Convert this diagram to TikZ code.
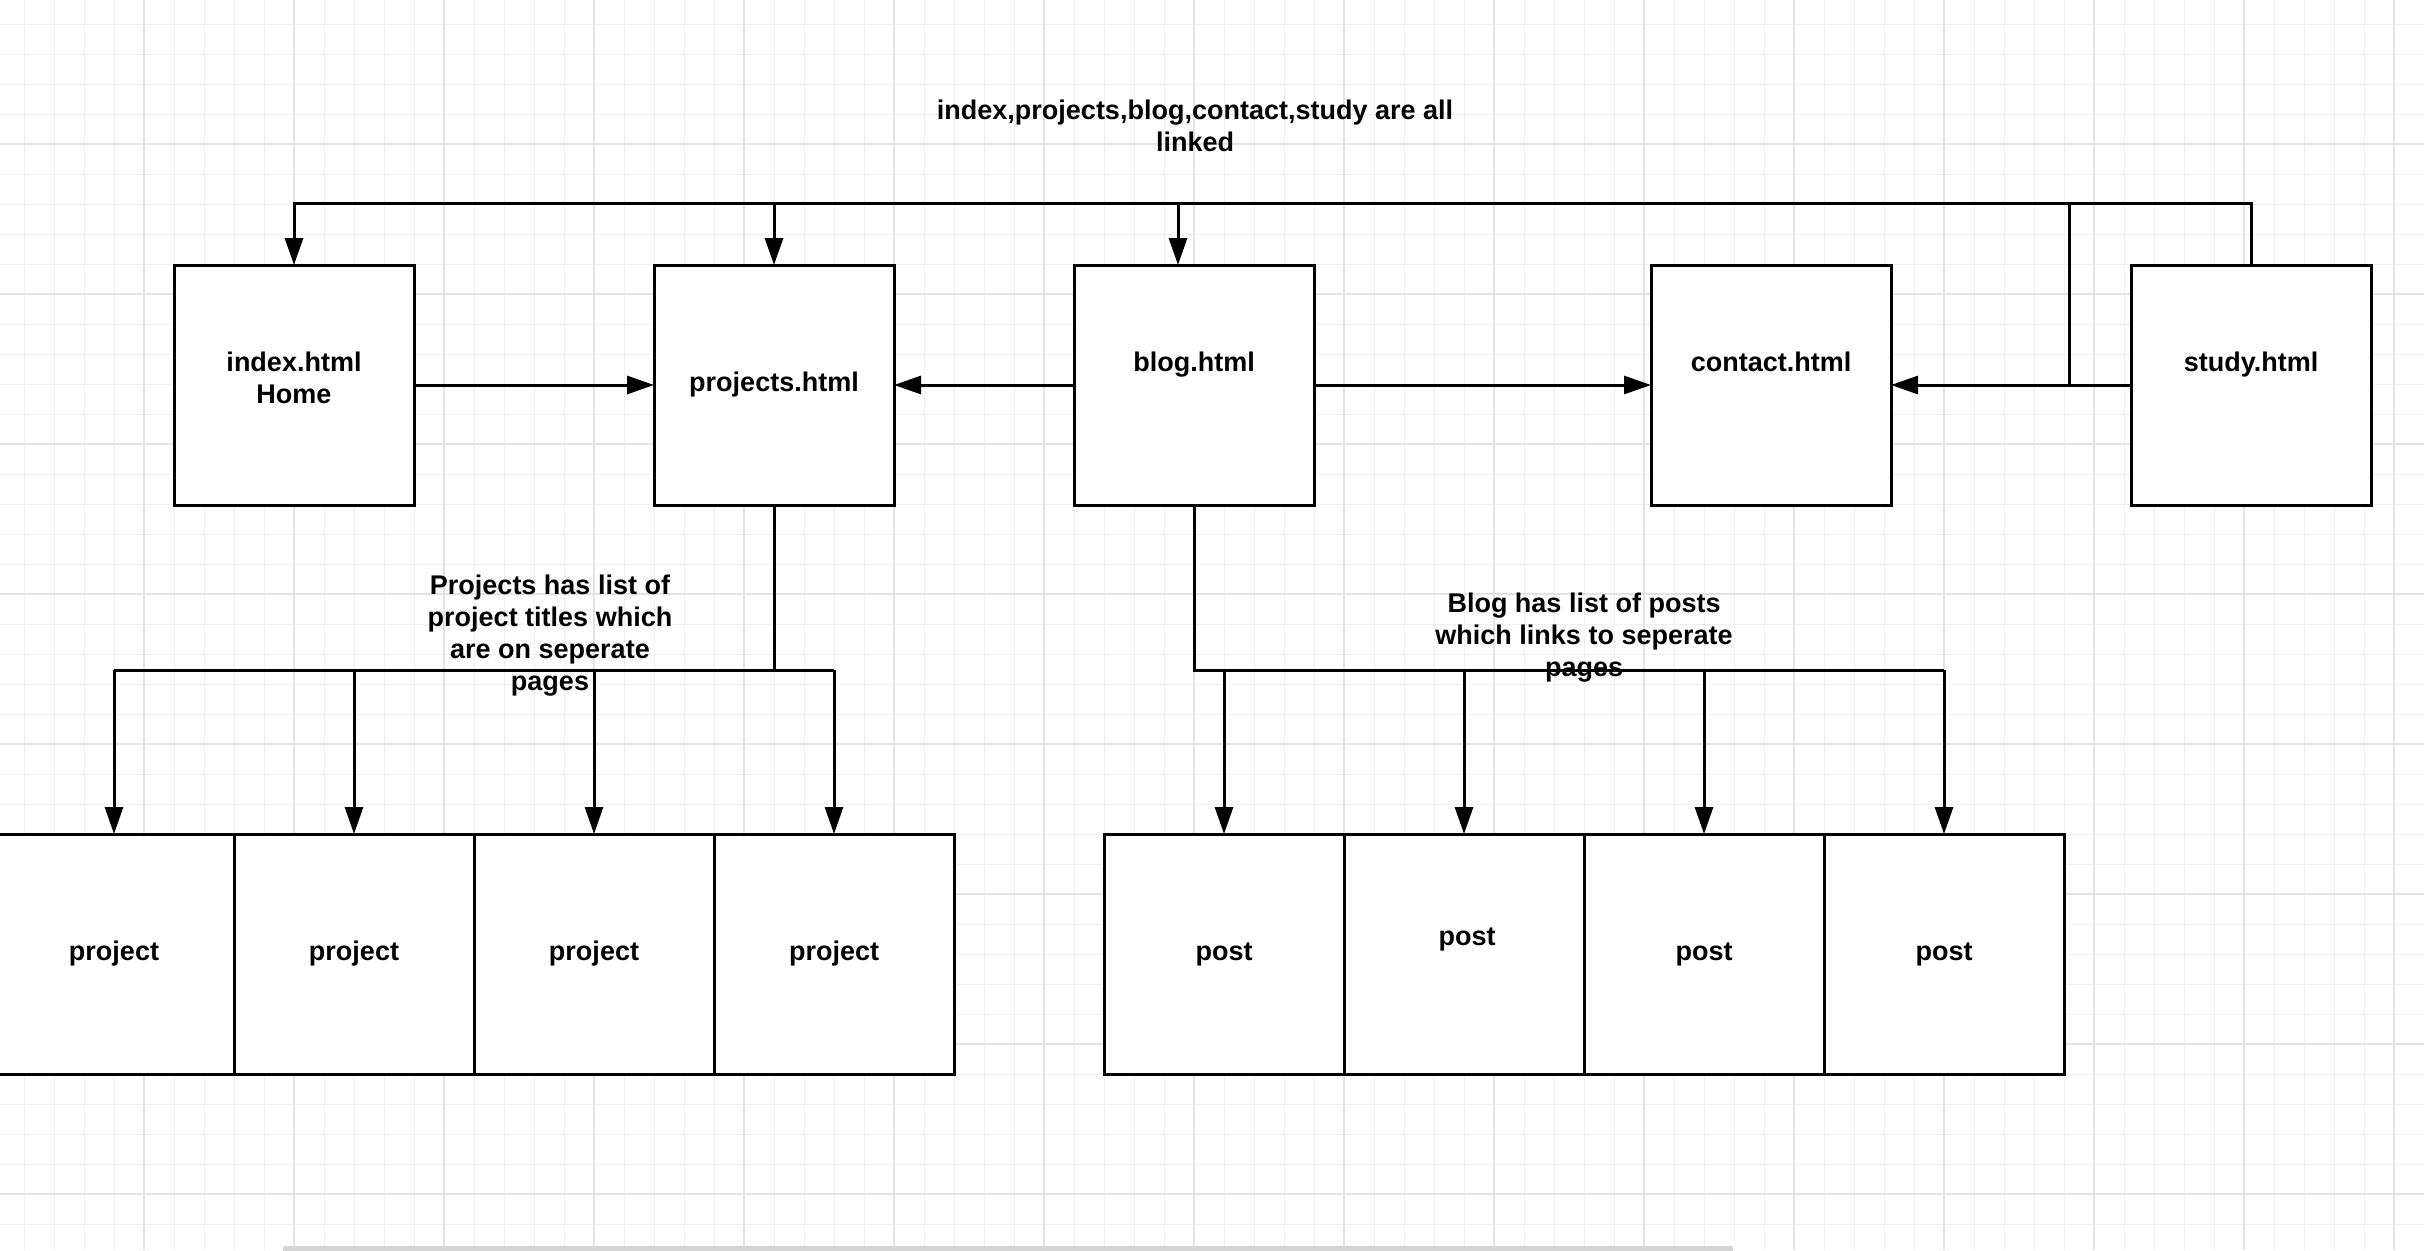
\documentclass[tikz,border=0pt]{standalone}
\usepackage{fontspec}
\setmainfont{Liberation Sans}
\usetikzlibrary{arrows.meta}

\begin{document}
\begin{tikzpicture}[x=1pt, y=-1pt, line width=3pt,
  page/.style={draw, fill=white, minimum width=240pt, minimum height=240pt,
    inner sep=0pt, outer sep=0pt},
  txt/.style={font=\fontsize{27}{32}\selectfont\bfseries, align=center},
  link/.style={-{Triangle[length=27pt,width=18pt]}},
  minorgrid/.style={line width=1pt, black!6},
  majorgrid/.style={line width=1.2pt, black!11}]
  \useasboundingbox (0,0) rectangle (2424,1250);
  \clip (0,0) rectangle (2424,1250);

  % background grid
  \foreach \k in {0,...,80} \draw[minorgrid] (24+30*\k,0) -- (24+30*\k,1250);
  \foreach \k in {0,...,41} \draw[minorgrid] (0,24+30*\k) -- (2424,24+30*\k);
  \foreach \k in {0,...,15} \draw[majorgrid] (144+150*\k,0) -- (144+150*\k,1250);
  \foreach \k in {0,...,7} \draw[majorgrid] (0,144+150*\k) -- (2424,144+150*\k);
  \fill[black!17, rounded corners=2pt] (283,1246) rectangle (1733,1252);

  % top pages
  \node[page, label={[txt, yshift=7pt]center:index.html\\Home}] (index) at (294,385) {};
  \node[page, label={[txt]center:projects.html}] (projects) at (774,385) {};
  \node[page, label={[txt, yshift=20pt]center:blog.html}] (blog) at (1194,385) {};
  \node[page, label={[txt, yshift=23pt]center:contact.html}] (contact) at (1771,385) {};
  \node[page, label={[txt, yshift=20pt]center:study.html}] (study) at (2251,385) {};

  \node[txt] (alllinked) at (1195,126) {index,projects,blog,contact,study are all\\linked};

  % links between the pages
  \coordinate (busL) at (294,203);
  \coordinate (blogin) at (1178,265);
  \coordinate (branch) at (2069,385);
  \draw[link] (study.north) |- (busL) -- (index.north);
  \draw[link] (projects.north |- busL) -- (projects.north);
  \draw[link] (blogin |- busL) -- (blogin);
  \draw (branch |- busL) -- (branch);
  \draw[link] (index.east) -- (projects.west);
  \draw[link] (blog.west) -- (projects.east);
  \draw[link] (blog.east) -- (contact.west);
  \draw[link] (study.west) -- (contact.east);

  % sub pages
  \coordinate (pbus) at (0,670);
  \foreach \i/\x in {1/114, 2/354, 3/594, 4/834}
    \node[page, label={[txt]center:project}] (p\i) at (\x,954) {};
  \foreach \i/\x/\dx/\dy in {1/1224/0/0, 2/1464/3/15, 3/1704/0/0, 4/1944/0/0}
    \node[page, label={[txt, xshift=\dx pt, yshift=\dy pt]center:post}] (q\i) at (\x,954) {};

  \draw (projects.south) -- (projects.south |- pbus);
  \draw (p1.north |- pbus) -- (p4.north |- pbus);
  \draw (blog.south) |- (q4.north |- pbus);
  \foreach \i in {1,...,4} {
    \draw[link] (p\i.north |- pbus) -- (p\i.north);
    \draw[link] (q\i.north |- pbus) -- (q\i.north);
  }

  \node[txt] (projnote) at (550,636) {Projects has list of\\project titles which\\are on seperate\\pages};
  \node[txt] (blognote) at (1584,638) {Blog has list of posts\\which links to seperate\\pages};
\end{tikzpicture}
\end{document}
